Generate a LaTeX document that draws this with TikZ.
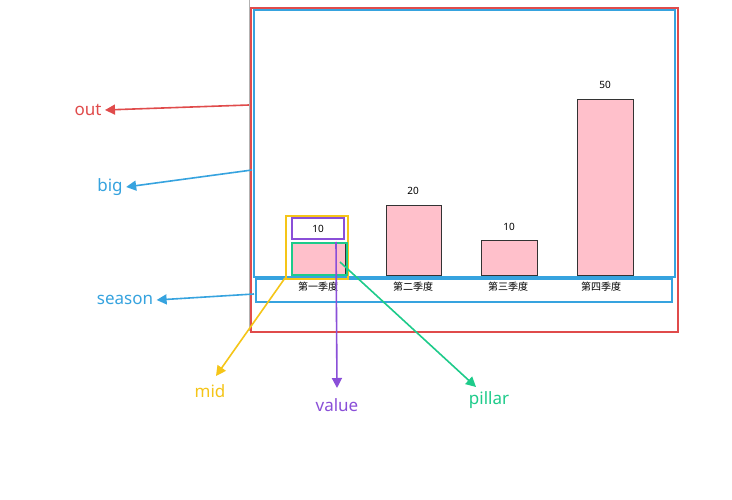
\documentclass[tikz,border=0pt]{standalone}
\usepackage{fontspec}
\setmainfont{Noto Sans}
\newfontfamily\cjk{Noto Sans CJK SC}
\usetikzlibrary{arrows.meta}
\definecolor{cred}{HTML}{E04B4B}
\definecolor{cblue}{HTML}{36A3DF}
\definecolor{cyel}{HTML}{F5C518}
\definecolor{cpur}{HTML}{8A4FD8}
\definecolor{cgrn}{HTML}{1DCB8A}
\definecolor{cpink}{HTML}{FFC0CB}
\begin{document}
\begin{tikzpicture}[x=1pt,y=-1pt,
 box/.style={line width=2pt,minimum width=#1,inner sep=0,anchor=north west},
 bar/.style={draw=black!80,fill=cpink,line width=0.8pt,inner sep=0,anchor=north west},
 num/.style={font=\fontsize{10}{11}\selectfont},
 seas/.style={font=\cjk\fontsize{10}{11}\selectfont},
 lbl/.style={font=\fontsize{17}{19}\selectfont},
 arr/.style={line width=1.6pt,-{Triangle[length=10pt,width=10pt]}}]
\useasboundingbox[fill=white] (0,0) rectangle (732,500);
\draw[gray!60] (249,0) -- (249,331);
\node[draw=cred,box=427pt,minimum height=324pt] (out) at (250,7) {};
\node[draw=cblue,box=421pt,minimum height=267pt] (big) at (253,9) {};
\node[draw=cblue,box=416pt,minimum height=23pt] (season) at (255,278) {};
\node[draw=cyel,box=62pt,minimum height=63pt] (mid) at (285,215) {};
\node[draw=cpur,box=52pt,minimum height=21pt,num] (value) at (291,217) {10};
\node[bar,minimum width=54pt,minimum height=32pt] (b1) at (291,242) {};
\node[draw=cgrn,box=55pt,minimum height=32pt] (pillar) at (291,242) {};
\node[bar,minimum width=55pt,minimum height=70pt] (b2) at (386,205) {};
\node[bar,minimum width=56pt,minimum height=35pt] (b3) at (481,240) {};
\node[bar,minimum width=56pt,minimum height=176pt] (b4) at (577,99) {};
\node[num] (n2) at (413,191) {20};
\node[num] (n3) at (509,227) {10};
\node[num] (n4) at (605,85) {50};
\node[seas] (s1) at (318,287) {第一季度};
\node[seas] (s2) at (413,287) {第二季度};
\node[seas] (s3) at (508,287) {第三季度};
\node[seas] (s4) at (601,287) {第四季度};
\node[lbl,text=cred] (tout) at (88,110) {out};
\node[lbl,text=cblue] (tbig) at (110,187) {big};
\node[lbl,text=cblue] (tseason) at (125,300) {season};
\node[lbl,text=cyel] (tmid) at (210,391) {mid};
\node[lbl,text=cpur] (tvalue) at (337,405) {value};
\node[lbl,text=cgrn] (tpillar) at (489,400) {pillar};
\coordinate (pout) at (249,105);
\coordinate (pbig) at (252,170);
\coordinate (pseason) at (254,294);
\coordinate (pmid) at (285,278);
\coordinate (pvalue) at (336,242);
\coordinate (ppillar) at (340,262);
\draw[arr,cred] (pout) -- (tout.east);
\draw[arr,cblue] (pbig) -- (tbig.east);
\draw[arr,cblue] (pseason) -- (tseason.east);
\draw[arr,cyel] (pmid) -- (216,376);
\draw[arr,cpur] (pvalue) -- (337,388);
\draw[arr,cgrn] (ppillar) -- (476,387);
\end{tikzpicture}
\end{document}
